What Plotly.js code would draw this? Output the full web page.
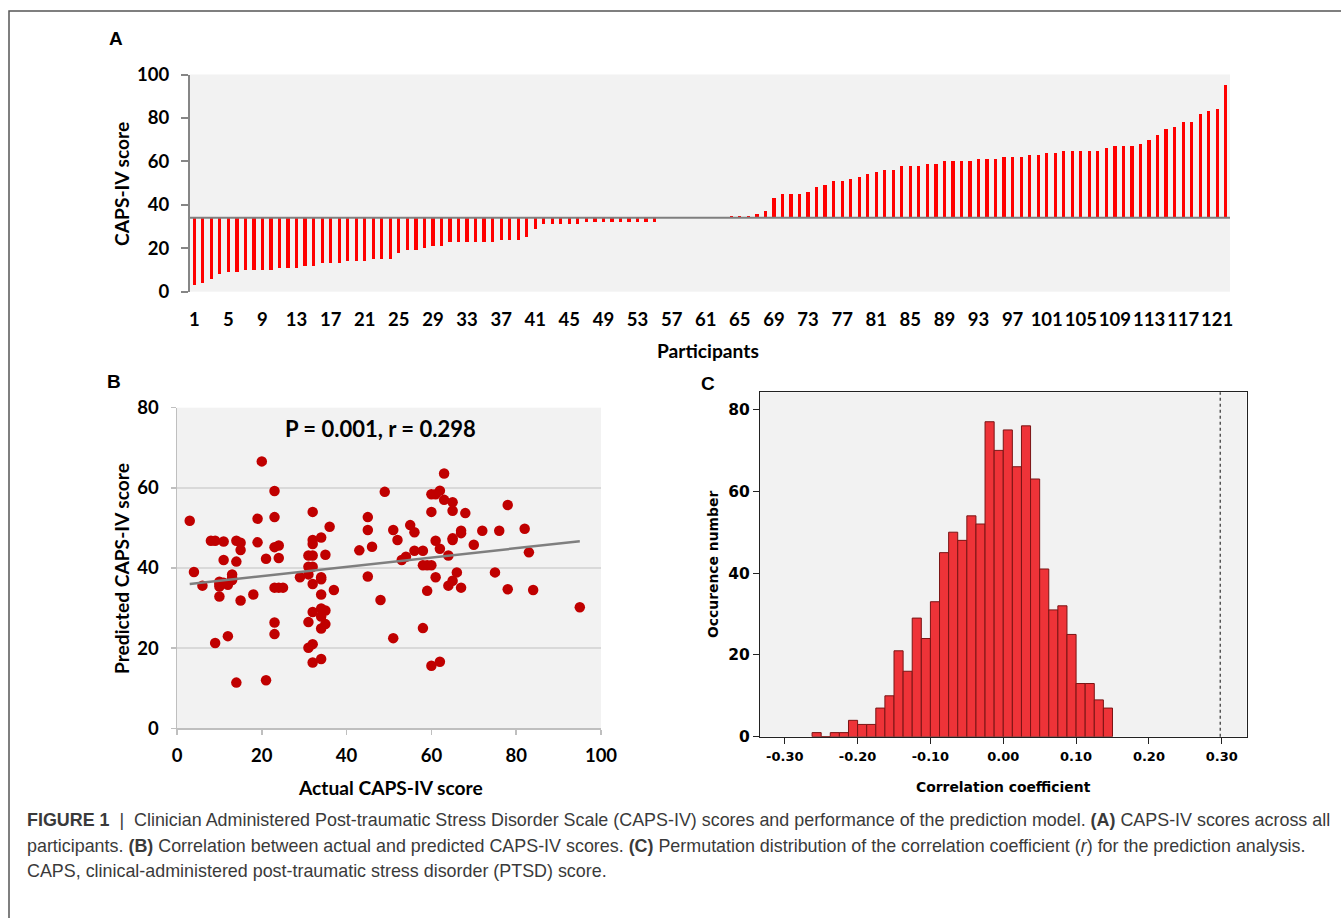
<!DOCTYPE html>
<html><head><meta charset="utf-8">
<script src="https://cdn.plot.ly/plotly-3.0.1.min.js"></script>
<style>html,body{margin:0;padding:0;background:#fff}#chart{width:1341px;height:918px}</style>
</head><body><div id="chart"></div>
<script>
// ---------- DATA ----------
// Panel A: CAPS-IV score of every participant, sorted ascending
const capsScores = [
  3, 4, 6, 8, 9, 9, 10, 10, 10, 10, 11, 11, 11, 12, 12, 13, 13, 13, 14, 14,
  14, 15, 15, 15, 18, 19, 19, 20, 21, 21, 23, 23, 23, 23, 23, 23, 24, 24, 24, 25,
  29, 31, 31, 31, 31, 31, 32, 32, 32, 32, 32, 32, 32, 32, 32, 34, 34, 34, 34, 34,
  34, 34, 34, 35, 35, 35, 36, 37, 43, 45, 45, 45, 46, 48, 49, 51, 51, 52, 53, 54,
  55, 56, 56, 58, 58, 58, 59, 59, 60, 60, 60, 60, 61, 61, 61, 62, 62, 62, 63, 63,
  64, 64, 65, 65, 65, 65, 65, 66, 67, 67, 67, 68, 70, 72, 75, 76, 78, 78, 82, 83,
  84, 95
];
// Panel B: predicted CAPS-IV score, same participant order as capsScores
const predictedScores = [
  51.8, 39.0, 35.6, 46.8, 46.8, 21.3, 36.6, 32.9, 35.4, 36.0, 46.6, 42.0, 36.3, 23.0, 35.8, 38.4, 37.0, 37.5, 46.8, 41.6,
  11.4, 44.5, 46.3, 31.9, 33.4, 52.3, 46.4, 66.6, 42.3, 12.0, 59.2, 52.7, 45.2, 35.1, 26.4, 23.5, 45.6, 42.5, 35.1, 35.1,
  37.7, 43.1, 40.3, 38.4, 26.5, 20.1, 43.1, 40.3, 36.0, 54.0, 47.0, 46.0, 29.0, 21.0, 16.4, 47.6, 37.7, 33.4, 29.9, 27.9,
  24.9, 17.3, 37.2, 43.3, 29.4, 26.0, 50.3, 34.5, 44.4, 52.7, 49.5, 37.9, 45.3, 32.0, 59.0, 49.5, 22.5, 47.0, 42.0, 42.8,
  50.7, 48.9, 44.3, 44.3, 40.7, 25.0, 40.7, 34.3, 40.7, 15.6, 58.4, 54.0, 58.4, 46.8, 37.7, 16.6, 59.3, 44.8, 63.6, 57.0,
  43.1, 35.6, 56.4, 54.3, 47.0, 36.8, 47.4, 38.9, 49.3, 48.7, 35.1, 53.7, 45.8, 49.3, 38.9, 49.3, 55.7, 34.7, 49.8, 43.9,
  34.5, 30.2
];
const axisCrossA = 34;            // horizontal axis of panel A crosses here
const statText = 'P = 0.001, r = 0.298';
// Panel C: permutation distribution of r (1000 permutations)
const histBinStart = -0.2625;
const histBinWidth = 0.0125;
const histCounts = [1, 0, 1, 1, 4, 3, 3, 7, 10, 21, 16, 29, 24, 33, 45, 50, 48, 54, 52, 77,
                    70, 75, 66, 76, 63, 41, 31, 32, 25, 13, 13, 9, 7];
const observedR = 0.298;
const corrTicks = [-0.3, -0.2, -0.1, 0, 0.1, 0.2, 0.3];

// ---------- helpers ----------
const W = 1341, H = 918;
const px = x => x / W;
const py = y => 1 - y / H;
const calibri = 'Lato, "Open Sans", sans-serif';
const spss = '"DejaVu Sans", Verdana, sans-serif';
const capFont = '"Liberation Sans", Arial, sans-serif';

const participants = capsScores.map((_, i) => i + 1);
const aTicks = participants.filter(p => (p - 1) % 4 === 0);

// least-squares trend line from the data
const n = capsScores.length;
const mx = capsScores.reduce((a, b) => a + b, 0) / n;
const my = predictedScores.reduce((a, b) => a + b, 0) / n;
let sxy = 0, sxx = 0;
for (let i = 0; i < n; i++) { sxy += (capsScores[i] - mx) * (predictedScores[i] - my); sxx += (capsScores[i] - mx) ** 2; }
const slope = sxy / sxx, icpt = my - slope * mx;
const xMin = Math.min(...capsScores), xMax = Math.max(...capsScores);

const binCenters = histCounts.map((_, i) => histBinStart + histBinWidth * (i + 0.5));

const traces = [
  { type: 'bar', x: participants, y: capsScores.map(v => v - axisCrossA), base: axisCrossA,
    width: 0.38, marker: { color: '#FF0000', line: { width: 0 } }, xaxis: 'x', yaxis: 'y', hoverinfo: 'skip' },
  { type: 'scatter', mode: 'markers', x: capsScores, y: predictedScores,
    marker: { color: '#C00000', size: 10.5 }, xaxis: 'x2', yaxis: 'y2', hoverinfo: 'skip' },
  { type: 'scatter', mode: 'lines', x: [xMin, xMax], y: [icpt + slope * xMin, icpt + slope * xMax],
    line: { color: '#7F7F7F', width: 2.5 }, xaxis: 'x2', yaxis: 'y2', hoverinfo: 'skip' },
  { type: 'bar', x: binCenters, y: histCounts, width: histBinWidth,
    marker: { color: '#EE3338', line: { color: '#7A1414', width: 1 } }, xaxis: 'x3', yaxis: 'y3', hoverinfo: 'skip' }
];

const tfA = { family: calibri, size: 18.5, color: '#000', weight: 700 };
const ttA = { family: calibri, size: 19.2, color: '#000', weight: 700 };
const tfCx = { family: spss, size: 13, color: '#000', weight: 700 };
const tfCy = { family: spss, size: 15.5, color: '#000', weight: 700 };
const ttC = { family: spss, size: 13.9, color: '#000', weight: 700 };
const capF = { family: capFont, size: 17.9, color: '#3a3a3a' };
const panelF = { family: 'Arial, "Liberation Sans"', size: 19, weight: 700, color: '#000' };

const layout = {
  width: W, height: H, margin: { l: 0, r: 0, t: 0, b: 0 },
  paper_bgcolor: '#FFFFFF', plot_bgcolor: '#F2F2F2', showlegend: false, bargap: 0,
  xaxis: { domain: [px(190), px(1230)], range: [0.5, capsScores.length + 0.5], anchor: 'y',
           tickvals: aTicks, ticktext: aTicks.map(String), ticks: '', ticklabelstandoff: 15,
           tickangle: 0, showline: false, showgrid: false, zeroline: false, tickfont: tfA, fixedrange: true },
  yaxis: { domain: [py(291.7), py(74.5)], range: [0, 100], dtick: 20, anchor: 'x',
           showline: true, linecolor: '#868686', linewidth: 2, ticks: 'outside', ticklen: 7,
           tickwidth: 2, tickcolor: '#868686', showgrid: false, zeroline: false, tickfont: tfA,
           ticklabelstandoff: 8 },
  xaxis2: { domain: [px(177), px(601)], range: [0, 100], dtick: 20, anchor: 'y2', tickangle: 0,
            showline: true, linecolor: '#BFBFBF', linewidth: 1.5, ticks: 'outside', ticklen: 5,
            tickcolor: '#BFBFBF', tickwidth: 1.5, showgrid: false, zeroline: false, tickfont: tfA,
            ticklabelstandoff: 5 },
  yaxis2: { domain: [py(728.3), py(407.7)], range: [0, 80], dtick: 20, anchor: 'x2',
            showline: true, linecolor: '#BFBFBF', linewidth: 1.5, ticks: 'outside', ticklen: 5,
            tickcolor: '#BFBFBF', tickwidth: 1.5, showgrid: true, gridcolor: '#D9D9D9', gridwidth: 1.5,
            zeroline: false, tickfont: tfA, ticklabelstandoff: 8 },
  xaxis3: { domain: [px(760), px(1246.5)], range: [-0.334, 0.334], anchor: 'y3', tickangle: 0,
            tickvals: corrTicks, ticktext: corrTicks.map(v => v.toFixed(2)),
            showline: true, mirror: true, linecolor: '#222', linewidth: 1, ticks: 'outside', ticklen: 6,
            tickcolor: '#222', showgrid: false, zeroline: false, tickfont: tfCx, ticklabelstandoff: 2 },
  yaxis3: { domain: [py(736.7), py(392.3)], range: [0, 84.2], tickvals: [0, 20, 40, 60, 80], anchor: 'x3',
            showline: true, mirror: true, linecolor: '#222', linewidth: 1, ticks: 'outside', ticklen: 6,
            tickcolor: '#222', showgrid: false, zeroline: false, tickfont: tfCy, ticklabelstandoff: 0 },
  shapes: [
    { type: 'line', xref: 'x domain', x0: 0, x1: 1, yref: 'y', y0: axisCrossA, y1: axisCrossA,
      line: { color: '#7F7F7F', width: 2 }, layer: 'above' },
    { type: 'line', xref: 'x3', x0: observedR, x1: observedR, yref: 'y3 domain', y0: 0, y1: 1,
      line: { color: '#555555', width: 1.5, dash: '3px,3px' }, layer: 'above' },
    { type: 'rect', xref: 'paper', yref: 'paper', x0: px(9), x1: 1.05, y0: -0.05, y1: py(11),
      line: { color: '#555555', width: 1.5 }, fillcolor: 'rgba(0,0,0,0)', layer: 'below' }
  ],
  annotations: [
    { text: 'A', x: px(116), y: py(39), font: panelF },
    { text: 'CAPS-IV score', x: px(121), y: py(184), textangle: -90, font: ttA },
    { text: 'Participants', x: px(708), y: py(350), font: ttA },
    { text: 'B', x: px(114), y: py(381), font: panelF },
    { text: 'Predicted CAPS-IV score', x: px(121), y: py(568), textangle: -90, font: ttA },
    { text: 'Actual CAPS-IV score', x: px(390), y: py(787), font: ttA },
    { text: statText, x: px(380), y: py(428), font: { family: calibri, size: 22, weight: 700, color: '#000' } },
    { text: 'C', x: px(708), y: py(383), font: panelF },
    { text: 'Occurence number', x: px(713), y: py(565), textangle: -90, font: ttC },
    { text: 'Correlation coefficient', x: px(1003), y: py(787), font: ttC },
    { text: '<b>FIGURE 1</b>  |  Clinician Administered Post-traumatic Stress Disorder Scale (CAPS-IV) scores and performance of the prediction model. <b>(A)</b> CAPS-IV scores across all',
      x: px(25), y: py(820), xanchor: 'left', font: capF },
    { text: 'participants. <b>(B)</b> Correlation between actual and predicted CAPS-IV scores. <b>(C)</b> Permutation distribution of the correlation coefficient (<i>r</i>) for the prediction analysis.',
      x: px(25), y: py(846), xanchor: 'left', font: capF },
    { text: 'CAPS, clinical-administered post-traumatic stress disorder (PTSD) score.',
      x: px(25), y: py(871), xanchor: 'left', font: capF }
  ].map(a => Object.assign({ xref: 'paper', yref: 'paper', showarrow: false, xanchor: 'center', yanchor: 'middle' }, a))
};

Plotly.newPlot('chart', traces, layout, { staticPlot: true, displayModeBar: false });
</script>
</body></html>
